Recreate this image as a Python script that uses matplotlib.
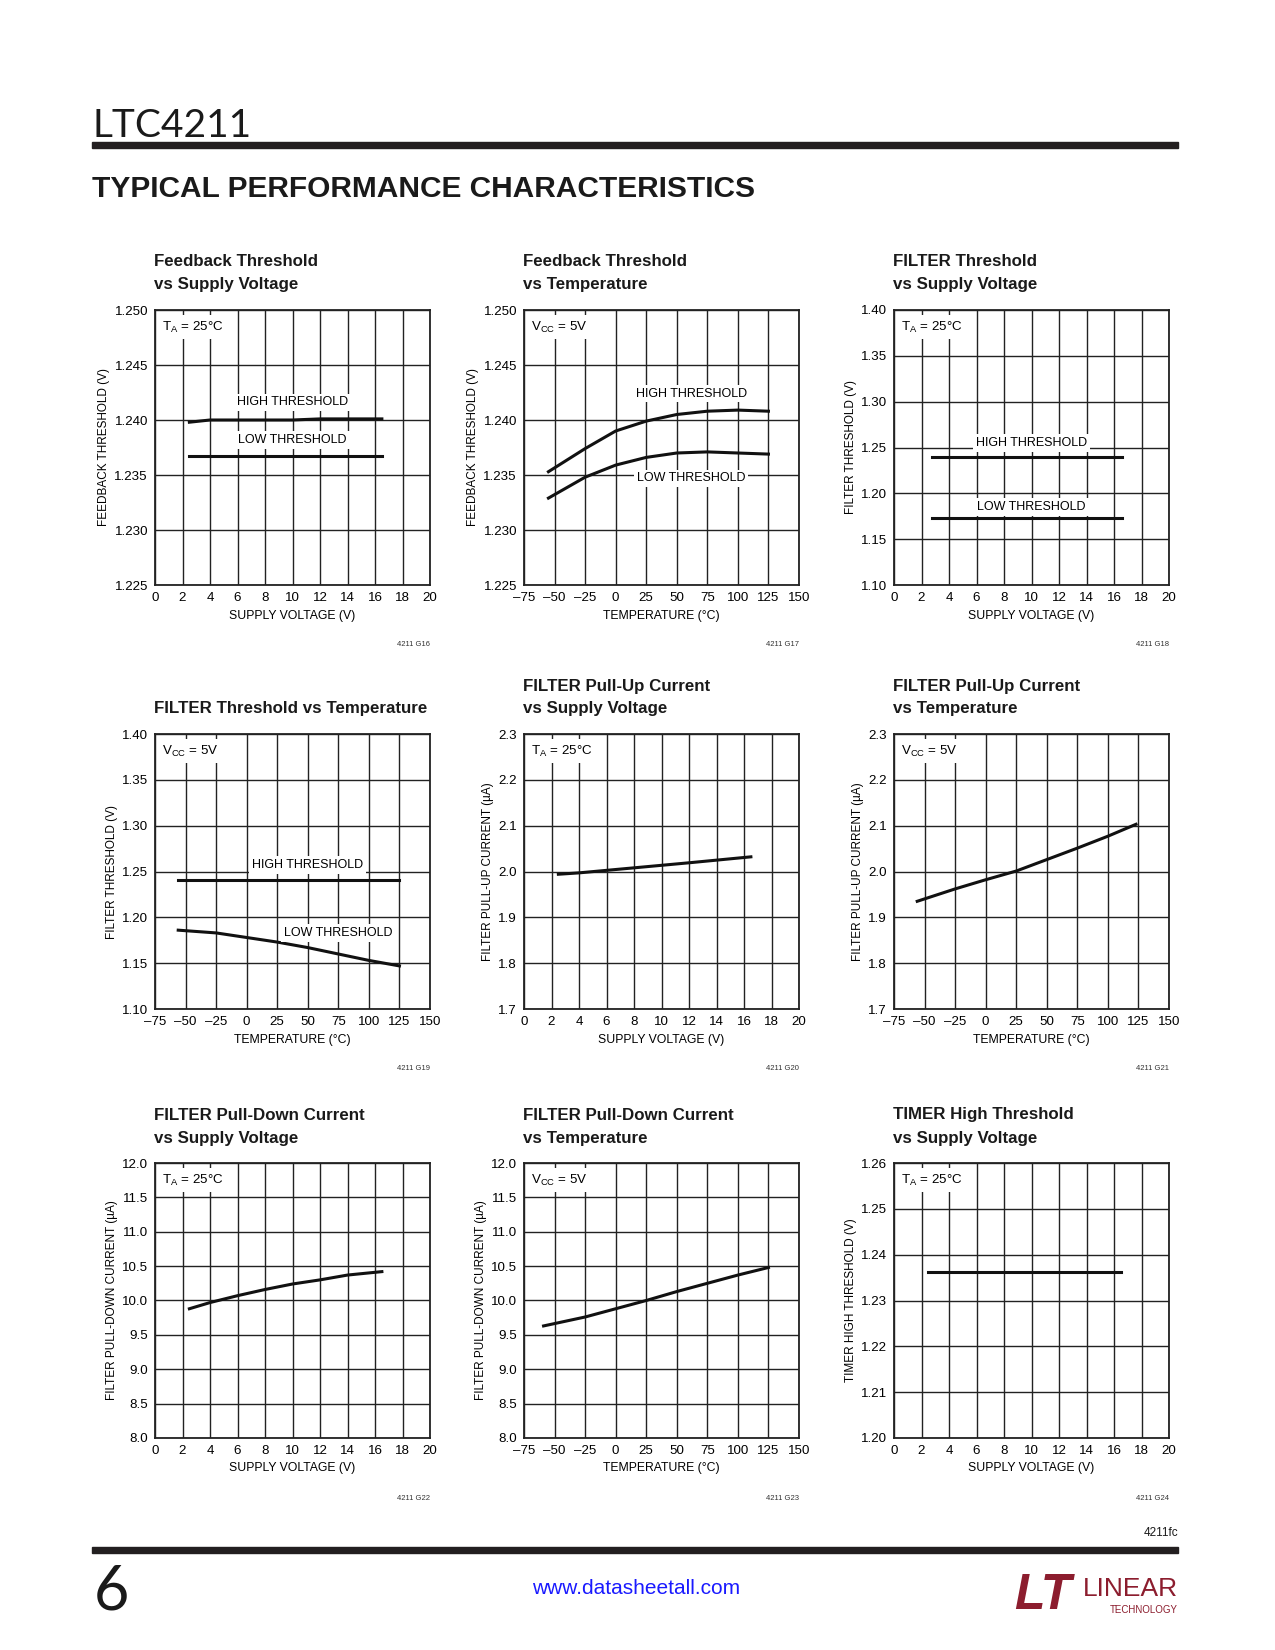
import matplotlib
matplotlib.use("Agg")
import matplotlib.pyplot as plt

W, H = 1275, 1650
SANS = ['Liberation Sans', 'DejaVu Sans']
plt.rcParams['font.family'] = SANS
plt.rcParams['mathtext.fontset'] = 'custom'
plt.rcParams['mathtext.rm'] = 'Liberation Sans'
plt.rcParams['mathtext.it'] = 'Liberation Sans:italic'

# ---- data ----
volt_ticks = [0, 2, 4, 6, 8, 10, 12, 14, 16, 18, 20]
temp_ticks = [-75, -50, -25, 0, 25, 50, 75, 100, 125, 150]
temp_labels = ['–75', '–50', '–25', '0', '25', '50', '75', '100', '125', '150']

# G16 feedback threshold vs supply
g16_v = [2.5, 4, 6, 8, 10, 12, 14, 16.5]
g16_high = [1.2398, 1.2400, 1.2400, 1.2400, 1.2400, 1.2401, 1.2401, 1.2401]
g16_low = [1.2367, 1.2367, 1.2367, 1.2367, 1.2367, 1.2367, 1.2367, 1.2367]

# G17 feedback threshold vs temperature
g17_t = [-55, -25, 0, 25, 50, 75, 100, 125]
g17_high = [1.2353, 1.2374, 1.2390, 1.2399, 1.2405, 1.2408, 1.2409, 1.2408]
g17_low = [1.2329, 1.2348, 1.2359, 1.2366, 1.2370, 1.2371, 1.2370, 1.2369]

# G18 filter threshold vs supply
g18_v = [2.75, 6, 10, 14, 16.6]
g18_high = [1.240, 1.240, 1.240, 1.240, 1.240]
g18_low = [1.173, 1.173, 1.173, 1.173, 1.173]

# G19 filter threshold vs temperature
g19_t = [-56, -25, 0, 25, 50, 75, 100, 125]
g19_high = [1.241, 1.241, 1.241, 1.241, 1.241, 1.241, 1.241, 1.241]
g19_low = [1.186, 1.183, 1.178, 1.173, 1.167, 1.160, 1.153, 1.147]

# G20 filter pull-up current vs supply
g20_v = [2.5, 4, 8, 12, 16.5]
g20_i = [1.994, 1.997, 2.008, 2.019, 2.032]

# G21 filter pull-up current vs temperature
g21_t = [-56, -25, 0, 25, 50, 75, 100, 123]
g21_i = [1.935, 1.962, 1.982, 2.001, 2.026, 2.051, 2.077, 2.103]

# G22 filter pull-down current vs supply
g22_v = [2.5, 4, 6, 8, 10, 12, 14, 16.5]
g22_i = [9.88, 9.97, 10.07, 10.16, 10.24, 10.30, 10.37, 10.42]

# G23 filter pull-down current vs temperature
g23_t = [-59, -25, 0, 25, 50, 75, 100, 125]
g23_i = [9.63, 9.76, 9.88, 10.00, 10.13, 10.25, 10.37, 10.48]

# G24 timer high threshold vs supply
g24_v = [2.5, 16.5]
g24_th = [1.2363, 1.2363]

TA = r'T$_\mathrm{A}$ = 25°C'
VCC = r'V$_\mathrm{CC}$ = 5V'

fig = plt.figure(figsize=(W / 100, H / 100), dpi=100)


def fx(x):
    return x / W


def fy(y):
    return 1 - y / H


def make_axes(left, top, title, gid, yticks, yfmt, ylabel, temp):
    size = 275
    ax = fig.add_axes([fx(left), fy(top + size), size / W, size / H])
    if temp:
        ax.set_xlim(-75, 150)
        ax.set_xticks(temp_ticks)
        ax.set_xticklabels(temp_labels)
        ax.set_xlabel('TEMPERATURE (°C)', fontsize=8.8, labelpad=4)
    else:
        ax.set_xlim(0, 20)
        ax.set_xticks(volt_ticks)
        ax.set_xlabel('SUPPLY VOLTAGE (V)', fontsize=8.8, labelpad=4)
    ax.set_ylim(yticks[0], yticks[-1])
    ax.set_yticks(yticks)
    ax.set_yticklabels([yfmt % v for v in yticks])
    ax.set_ylabel(ylabel, fontsize=8.5, labelpad=3)
    ax.tick_params(length=0, labelsize=9.6, pad=5)
    ax.set_axisbelow(True)
    ax.grid(True, color='#222222', linewidth=1.0)
    for s in ax.spines.values():
        s.set_linewidth(1.3)
        s.set_color('#222222')
    lines = title.split('\n')
    for i, ln in enumerate(lines):
        yy = top - 25 + 23 * (i - len(lines) + 1)
        fig.text(fx(left - 1), fy(yy), ln, fontsize=12.2, fontweight='bold',
                 ha='left', va='center', color='#1a1a1a')
    fig.text(fx(left + size), fy(top + size + 60), gid, fontsize=5.5,
             ha='right', va='center', color='#333333')
    return ax


def corner(ax, s):
    ax.text(0.025, 0.965, s, transform=ax.transAxes, fontsize=9.6,
            ha='left', va='top',
            bbox=dict(facecolor='white', edgecolor='none', pad=3))


def tag(ax, x, y, s):
    ax.text(x, y, s, fontsize=9, ha='center', va='center',
            bbox=dict(facecolor='white', edgecolor='none', pad=2))


LW = 2.2
cols = [155, 524, 894]
rows = [310, 734, 1163]

# row 1
ax = make_axes(cols[0], rows[0], 'Feedback Threshold\nvs Supply Voltage', '4211 G16',
               [1.225, 1.230, 1.235, 1.240, 1.245, 1.250], '%.3f',
               'FEEDBACK THRESHOLD (V)', False)
ax.plot(g16_v, g16_high, color='#111111', lw=LW)
ax.plot(g16_v, g16_low, color='#111111', lw=LW)
corner(ax, TA)
tag(ax, 10, 1.2416, 'HIGH THRESHOLD')
tag(ax, 10, 1.2382, 'LOW THRESHOLD')

ax = make_axes(cols[1], rows[0], 'Feedback Threshold\nvs Temperature', '4211 G17',
               [1.225, 1.230, 1.235, 1.240, 1.245, 1.250], '%.3f',
               'FEEDBACK THRESHOLD (V)', True)
ax.plot(g17_t, g17_high, color='#111111', lw=LW)
ax.plot(g17_t, g17_low, color='#111111', lw=LW)
corner(ax, VCC)
tag(ax, 62, 1.2424, 'HIGH THRESHOLD')
tag(ax, 62, 1.2347, 'LOW THRESHOLD')

ax = make_axes(cols[2], rows[0], 'FILTER Threshold\nvs Supply Voltage', '4211 G18',
               [1.10, 1.15, 1.20, 1.25, 1.30, 1.35, 1.40], '%.2f',
               'FILTER THRESHOLD (V)', False)
ax.plot(g18_v, g18_high, color='#111111', lw=LW)
ax.plot(g18_v, g18_low, color='#111111', lw=LW)
corner(ax, TA)
tag(ax, 10, 1.255, 'HIGH THRESHOLD')
tag(ax, 10, 1.185, 'LOW THRESHOLD')

# row 2
ax = make_axes(cols[0], rows[1], 'FILTER Threshold vs Temperature', '4211 G19',
               [1.10, 1.15, 1.20, 1.25, 1.30, 1.35, 1.40], '%.2f',
               'FILTER THRESHOLD (V)', True)
ax.plot(g19_t, g19_high, color='#111111', lw=LW)
ax.plot(g19_t, g19_low, color='#111111', lw=LW)
corner(ax, VCC)
tag(ax, 50, 1.257, 'HIGH THRESHOLD')
tag(ax, 75, 1.183, 'LOW THRESHOLD')

ax = make_axes(cols[1], rows[1], 'FILTER Pull-Up Current\nvs Supply Voltage', '4211 G20',
               [1.7, 1.8, 1.9, 2.0, 2.1, 2.2, 2.3], '%.1f',
               'FILTER PULL-UP CURRENT (µA)', False)
ax.plot(g20_v, g20_i, color='#111111', lw=LW)
corner(ax, TA)

ax = make_axes(cols[2], rows[1], 'FILTER Pull-Up Current\nvs Temperature', '4211 G21',
               [1.7, 1.8, 1.9, 2.0, 2.1, 2.2, 2.3], '%.1f',
               'FILTER PULL-UP CURRENT (µA)', True)
ax.plot(g21_t, g21_i, color='#111111', lw=LW)
corner(ax, VCC)

# row 3
ax = make_axes(cols[0], rows[2], 'FILTER Pull-Down Current\nvs Supply Voltage', '4211 G22',
               [8.0, 8.5, 9.0, 9.5, 10.0, 10.5, 11.0, 11.5, 12.0], '%.1f',
               'FILTER PULL-DOWN CURRENT (µA)', False)
ax.plot(g22_v, g22_i, color='#111111', lw=LW)
corner(ax, TA)

ax = make_axes(cols[1], rows[2], 'FILTER Pull-Down Current\nvs Temperature', '4211 G23',
               [8.0, 8.5, 9.0, 9.5, 10.0, 10.5, 11.0, 11.5, 12.0], '%.1f',
               'FILTER PULL-DOWN CURRENT (µA)', True)
ax.plot(g23_t, g23_i, color='#111111', lw=LW)
corner(ax, VCC)

ax = make_axes(cols[2], rows[2], 'TIMER High Threshold\nvs Supply Voltage', '4211 G24',
               [1.20, 1.21, 1.22, 1.23, 1.24, 1.25, 1.26], '%.2f',
               'TIMER HIGH THRESHOLD (V)', False)
ax.plot(g24_v, g24_th, color='#111111', lw=LW)
corner(ax, TA)

# ---- page header / footer ----
fig.text(fx(93), fy(137), 'LTC4211', fontsize=28, family=['Lato', 'DejaVu Sans'],
         ha='left', va='baseline', color='#1a1a1a')
fig.add_artist(plt.Rectangle((fx(92), fy(148)), fx(1178) - fx(92), 6 / H,
                             color='#231f20', transform=fig.transFigure))
fig.text(fx(92), fy(189), 'TYPICAL PERFORMANCE CHARACTERISTICS', fontsize=21.5,
         fontweight='bold', ha='left', va='center', color='#1a1a1a')

fig.text(fx(1178), fy(1533), '4211fc', fontsize=8.5, ha='right', va='center', color='#1a1a1a')
fig.add_artist(plt.Rectangle((fx(92), fy(1553)), fx(1178) - fx(92), 6 / H,
                             color='#231f20', transform=fig.transFigure))
fig.text(fx(94), fy(1610), '6', fontsize=44, family=['Lato', 'DejaVu Sans'],
         ha='left', va='baseline', color='#1a1a1a')
fig.text(fx(636), fy(1588), 'www.datasheetall.com', fontsize=15, ha='center',
         va='center', color='#1a1aff')
fig.text(fx(1014), fy(1609), 'LT', fontsize=36, fontweight='bold', style='italic',
         ha='left', va='baseline', color='#8c1d2e')
fig.text(fx(1178), fy(1596), 'LINEAR', fontsize=19, ha='right', va='baseline',
         color='#8c1d2e')
fig.text(fx(1178), fy(1613), 'TECHNOLOGY', fontsize=7, ha='right', va='baseline',
         color='#8c1d2e')

fig.savefig('out.png', dpi=100, facecolor='white')
